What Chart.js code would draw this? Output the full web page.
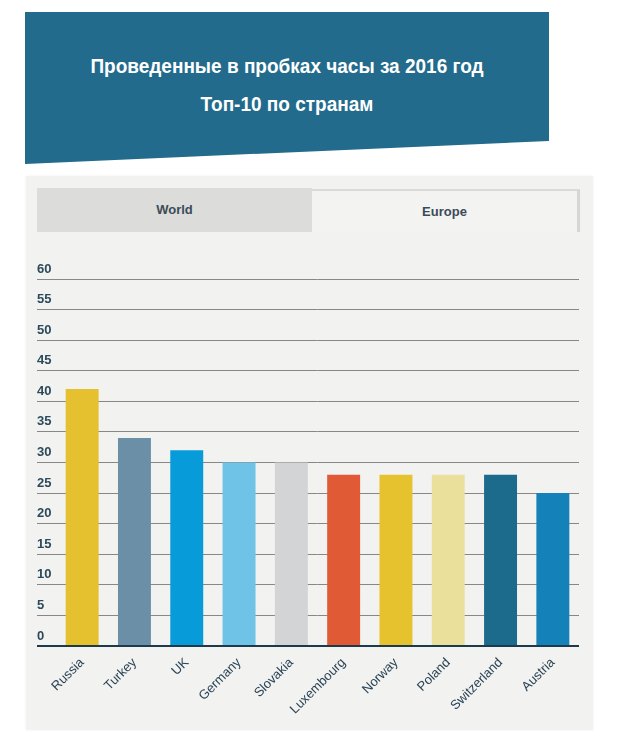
<!DOCTYPE html>
<html>
<head>
<meta charset="utf-8">
<script src="https://cdn.jsdelivr.net/npm/chart.js@4.4.1/dist/chart.umd.min.js"></script>
<style>
  html, body { margin:0; padding:0; background:#ffffff; }
  body { width:620px; height:745px; position:relative; overflow:hidden; font-family:"Liberation Sans", Arial, sans-serif; }
  #header { position:absolute; left:25px; top:12px; width:524px; height:152px; background:#226b8c;
            clip-path: polygon(0 0, 100% 0, 100% 129px, 0 100%); }
  .t { position:absolute; left:0; width:524px; text-align:center; color:#fff; font-weight:bold;
       font-family:"Liberation Sans Narrow","Arial Narrow","Liberation Sans",Arial,sans-serif; font-size:20px; line-height:24px;
       transform: scaleX(0.95); transform-origin: 50% 50%; }
  #panel { position:absolute; left:26px; top:176px; width:567px; height:554px; background:#f2f2f0;
           box-shadow: 0 0 3px rgba(0,0,0,0.06); }
  .tab { position:absolute; top:188px; height:44px; line-height:44px; text-align:center; font-weight:bold;
         font-size:13px; color:#3b4c58; }
  #tabW { left:37px; width:275px; background:#dcdcda; }
  #tabE { left:312px; width:265px; top:189px; height:43px; line-height:41px; background:#f3f3f1;
          border-top:2px solid #dadad8; border-right:3px solid #d6d6d4; box-sizing:border-box; width:268px; }
  #c { position:absolute; left:0; top:0; }
</style>
</head>
<body>
<div id="header">
  <div class="t" style="top:42px;">Проведенные в пробках часы за 2016 год</div>
  <div class="t" style="top:80px;">Топ-10 по странам</div>
</div>
<div id="panel"></div>
<div class="tab" id="tabW">World</div>
<div class="tab" id="tabE">Europe</div>
<canvas id="c" width="620" height="745"></canvas>
<script>
const categories = ["Russia","Turkey","UK","Germany","Slovakia","Luxembourg","Norway","Poland","Switzerland","Austria"];
const hours = [42, 34, 32, 30, 30, 28, 28, 28, 28, 25];
const barColors = ["#e5c12f","#6a8fa6","#089bda","#6ec3e7","#d3d4d5","#e05a36","#e6c22f","#ebe09b","#1c6a8c","#1481b9"];
const yTicks = [0,5,10,15,20,25,30,35,40,45,50,55,60];

new Chart(document.getElementById('c'), {
  type: 'bar',
  data: {
    labels: categories,
    datasets: [{ data: hours, backgroundColor: barColors, borderWidth: 0,
                 categoryPercentage: 1, barPercentage: 0.63 }]
  },
  options: {
    responsive: false,
    animation: false,
    events: [],
    layout: { padding: { left: 37, right: 41, top: 279, bottom: 15 } },
    plugins: { legend: { display: false }, tooltip: { enabled: false }, title: { display: false } },
    scales: {
      x: {
        grid: { display: false },
        border: { display: false },
        ticks: {
          autoSkip: false, minRotation: 45, maxRotation: 45, padding: 1,
          color: '#2a4456', font: { family: '"Liberation Sans", Arial, sans-serif', size: 13 }
        },
        afterFit: s => { s.height = 84; }
      },
      y: {
        min: 0, max: 60,
        afterBuildTicks: s => { s.ticks = yTicks.map(v => ({ value: v })); },
        border: { display: false },
        grid: {
          color: c => c.tick && c.tick.value === 0 ? '#1d3a4d' : '#878787',
          tickColor: c => c.tick && c.tick.value === 0 ? '#1d3a4d' : '#878787',
          lineWidth: c => c.tick && c.tick.value === 0 ? 2 : 1,
          tickLength: 19, drawTicks: true
        },
        ticks: {
          crossAlign: 'far', labelOffset: -10, padding: 0,
          color: '#2c4a5a',
          font: { family: '"Liberation Sans Narrow","Arial Narrow","Liberation Sans",Arial,sans-serif', size: 13, weight: 'bold' }
        },
        afterFit: s => { s.width = 19; }
      }
    }
  }
});
</script>
</body>
</html>
